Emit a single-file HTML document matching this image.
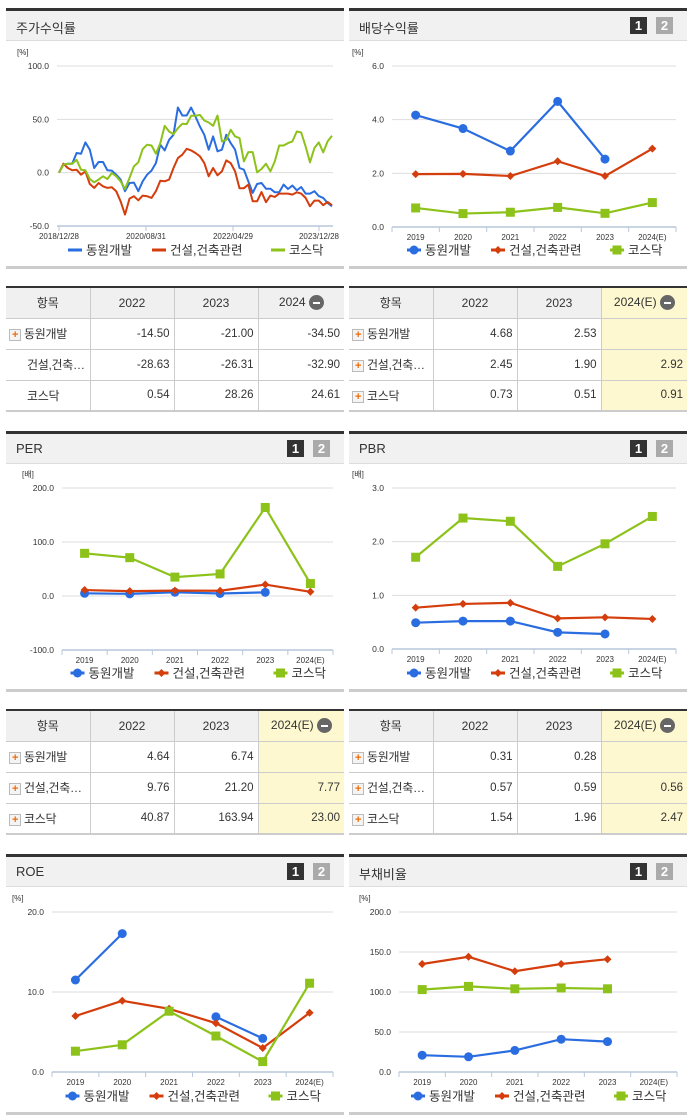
<!DOCTYPE html>
<html><head><meta charset="utf-8">
<style>
*{box-sizing:border-box;margin:0;padding:0}
body{width:691px;height:1115px;background:#fff;position:relative;overflow:hidden;font-family:"Liberation Sans","Noto Sans CJK KR",sans-serif;color:#333}
.panel{position:absolute;border-top:3px solid #333;border-bottom:3px solid #ccc}
.ph{height:30px;background:#f1f1f1;border-bottom:1px solid #ddd;position:relative}
.pt{position:absolute;left:10px;top:7px;font-size:13px;color:#333}
.b{position:absolute;top:6px;width:17px;height:17px;font-size:13px;font-weight:bold;color:#fff;text-align:center;line-height:17px}
.b1{background:#333}.b2{background:#aaa}
table{position:absolute;border-collapse:collapse;border-top:2px solid #333;border-bottom:2px solid #ccc;font-size:11.5px;table-layout:fixed}
td,th{border:1px solid #ccc;height:31px;padding:0 4px;font-weight:normal;white-space:nowrap;overflow:hidden}
th{background:#f0f0f0;text-align:center;font-size:12px}
td{text-align:right}
td.n{text-align:left;font-size:12px;padding-left:3px;letter-spacing:-0.3px}
tr td:first-child,tr th:first-child{border-left:none}
tr td:last-child,tr th:last-child{border-right:none}
.y{background:#fdf8d0}
.pl{display:inline-block;width:12px;height:12px;border:1px solid #bbb;background:#f4f4f4;color:#f26b0b;font-size:11px;line-height:10px;text-align:center;font-weight:bold;vertical-align:middle;margin-right:3px}
.sp{display:inline-block;width:15px;margin-right:3px}
.mi{display:inline-block;width:15px;height:15px;border-radius:50%;background:#666;vertical-align:middle;position:relative;margin-left:3px}
.mi:after{content:"";position:absolute;left:4px;top:6.5px;width:7px;height:2px;background:#fff}
svg{position:absolute;left:0;top:0}
</style></head><body>

<div class="panel" style="left:6px;top:8px;width:338px;height:261px"><div class="ph"><span class="pt">주가수익률</span></div></div>
<div class="panel" style="left:349px;top:8px;width:338px;height:261px"><div class="ph"><span class="pt">배당수익률</span><span class="b b1" style="left:281px">1</span><span class="b b2" style="left:307px">2</span></div></div>
<div class="panel" style="left:6px;top:431px;width:338px;height:261px"><div class="ph"><span class="pt">PER</span><span class="b b1" style="left:281px">1</span><span class="b b2" style="left:307px">2</span></div></div>
<div class="panel" style="left:349px;top:431px;width:338px;height:261px"><div class="ph"><span class="pt">PBR</span><span class="b b1" style="left:281px">1</span><span class="b b2" style="left:307px">2</span></div></div>
<div class="panel" style="left:6px;top:854px;width:338px;height:261px"><div class="ph"><span class="pt">ROE</span><span class="b b1" style="left:281px">1</span><span class="b b2" style="left:307px">2</span></div></div>
<div class="panel" style="left:349px;top:854px;width:338px;height:261px"><div class="ph"><span class="pt">부채비율</span><span class="b b1" style="left:281px">1</span><span class="b b2" style="left:307px">2</span></div></div>

<table style="left:6px;top:286px;width:338px">
<colgroup><col style="width:84px"><col style="width:84px"><col style="width:84px"><col></colgroup>
<tr><th>항목</th><th>2022</th><th>2023</th><th>2024<span class="mi"></span></th></tr>
<tr><td class="n"><span class="pl">+</span>동원개발</td><td>-14.50</td><td>-21.00</td><td>-34.50</td></tr>
<tr><td class="n"><span class="sp"></span>건설,건축…</td><td>-28.63</td><td>-26.31</td><td>-32.90</td></tr>
<tr><td class="n"><span class="sp"></span>코스닥</td><td>0.54</td><td>28.26</td><td>24.61</td></tr>
</table>
<table style="left:349px;top:286px;width:338px">
<colgroup><col style="width:84px"><col style="width:84px"><col style="width:84px"><col></colgroup>
<tr><th>항목</th><th>2022</th><th>2023</th><th class="y">2024(E)<span class="mi"></span></th></tr>
<tr><td class="n"><span class="pl">+</span>동원개발</td><td>4.68</td><td>2.53</td><td class="y"></td></tr>
<tr><td class="n"><span class="pl">+</span>건설,건축…</td><td>2.45</td><td>1.90</td><td class="y">2.92</td></tr>
<tr><td class="n"><span class="pl">+</span>코스닥</td><td>0.73</td><td>0.51</td><td class="y">0.91</td></tr>
</table>
<table style="left:6px;top:709px;width:338px">
<colgroup><col style="width:84px"><col style="width:84px"><col style="width:84px"><col></colgroup>
<tr><th>항목</th><th>2022</th><th>2023</th><th class="y">2024(E)<span class="mi"></span></th></tr>
<tr><td class="n"><span class="pl">+</span>동원개발</td><td>4.64</td><td>6.74</td><td class="y"></td></tr>
<tr><td class="n"><span class="pl">+</span>건설,건축…</td><td>9.76</td><td>21.20</td><td class="y">7.77</td></tr>
<tr><td class="n"><span class="pl">+</span>코스닥</td><td>40.87</td><td>163.94</td><td class="y">23.00</td></tr>
</table>
<table style="left:349px;top:709px;width:338px">
<colgroup><col style="width:84px"><col style="width:84px"><col style="width:84px"><col></colgroup>
<tr><th>항목</th><th>2022</th><th>2023</th><th class="y">2024(E)<span class="mi"></span></th></tr>
<tr><td class="n"><span class="pl">+</span>동원개발</td><td>0.31</td><td>0.28</td><td class="y"></td></tr>
<tr><td class="n"><span class="pl">+</span>건설,건축…</td><td>0.57</td><td>0.59</td><td class="y">0.56</td></tr>
<tr><td class="n"><span class="pl">+</span>코스닥</td><td>1.54</td><td>1.96</td><td class="y">2.47</td></tr>
</table>

<svg id="charts" width="691" height="1115"></svg>

<script>
const seriesNames = ['동원개발','건설,건축관련','코스닥'];
const years = ['2019','2020','2021','2022','2023','2024(E)'];
// stock return (%)
const stockDates = ['2018/12/28','2020/08/31','2022/04/29','2023/12/28'];
const stockTicks = [100,50,0,-50];
const stockBlue = [0,7.5,8.4,8.4,18.4,17.8,28.4,21.5,4.4,10,10,2.2,1.9,-1.9,-6.5,-17.4,-9.7,-9.3,-17.4,-8.1,-1.9,1.9,9.0,26.2,20.9,30.8,35.5,61.1,53.6,53.6,61.1,52.6,43.3,35.5,21.5,34,20,21.5,35.5,27.7,21.5,4.4,2.8,-8.1,-19,-10.6,-9.7,-15,-15,-18.4,-18.4,-11.2,-15.3,-12.1,-16.5,-13.4,-19.6,-19.6,-17.4,-22,-23.7,-28.4,-31.5];
const stockRed = [0,8.4,4.4,2.2,2.8,-1.9,1.2,-10.6,-14.3,-9.7,-12.8,-14.3,-13.7,-17.4,-26.8,-39.3,-24.3,-22.1,-25.9,-21.5,-22.1,-23.7,-17.4,-7.5,-8.1,-6.5,4.4,13.7,16.8,22.4,20.9,18.4,15.3,9.0,-3.4,4.4,-2.5,1.2,11.5,9.0,1.2,-14.6,-14.6,-11.2,-26.8,-26.8,-18.1,-27.7,-21.5,-22.7,-19.6,-19.6,-19.6,-20.6,-18.4,-19.6,-23.7,-31.5,-26.2,-26.2,-30.5,-27.4,-30.5];
const stockGreen = [0,7.5,8.4,8.4,12.1,2.8,2.2,-5.9,-9,-6.5,-3.4,-5.9,-0.3,-3.4,-8.1,-15.3,-5,5.9,9.7,22.1,26.2,25.5,17.8,27.7,43.9,38.6,36.1,41.7,45.8,45.5,53.3,53.3,54.2,48.9,47,43.9,53.6,29.3,30.8,40.2,34,32.4,10.6,19.3,19.3,0.3,3.4,8.4,1.2,10.6,25.5,25.5,27.7,29.3,38.6,37.7,24.6,9.7,23.1,28.4,19,29.3,34.6];
// dividend yield
const divTicks = [6,4,2,0];
const divBlue = [4.17,3.67,2.83,4.68,2.53,null];
const divRed = [1.97,1.98,1.90,2.45,1.90,2.92];
const divGreen = [0.71,0.50,0.55,0.73,0.51,0.91];
// PER
const perTicks = [200,100,0,-100];
const perBlue = [5,4,7,4.64,6.74,null];
const perRed = [11,9,10,9.76,21.2,7.77];
const perGreen = [79,71,35,40.87,163.94,23];
// PBR
const pbrTicks = [3,2,1,0];
const pbrBlue = [0.49,0.52,0.52,0.31,0.28,null];
const pbrRed = [0.77,0.84,0.86,0.57,0.59,0.56];
const pbrGreen = [1.71,2.44,2.38,1.54,1.96,2.47];
// ROE
const roeTicks = [20,10,0];
const roeBlue = [11.5,17.3,null,6.9,4.2,null];
const roeRed = [7.0,8.9,7.9,6.1,3.0,7.4];
const roeGreen = [2.6,3.4,7.6,4.5,1.3,11.1];
// debt ratio
const debtTicks = [200,150,100,50,0];
const debtBlue = [21,19,27,41,38,null];
const debtRed = [135,144,126,135,141,null];
const debtGreen = [103,107,104,105,104,null];

const COL = ['#2a6de0','#d43d0c','#8cc21a'];
const svg = document.getElementById('charts');
const NS = 'http://www.w3.org/2000/svg';
function mk(tag, attrs, parent){
  const e = document.createElementNS(NS, tag);
  for (const k in attrs) e.setAttribute(k, attrs[k]);
  (parent||svg).appendChild(e);
  return e;
}
function txt(x,y,s,size,anchor,fill,parent){
  const t = mk('text',{x:x,y:y,'font-size':size,'text-anchor':anchor||'start',fill:fill||'#333','font-family':'Liberation Sans, Noto Sans CJK KR, sans-serif'},parent);
  t.textContent = s; return t;
}
function yScale(v, vmax, vmin, top, bot){ return top + (vmax - v)/(vmax - vmin)*(bot - top); }

function grid(g, ticks, x0, x1, top, bot, unit){
  const vmax = ticks[0], vmin = ticks[ticks.length-1];
  txt(x0-40, top-11, unit, 8, 'start', '#333', g);
  ticks.forEach(t=>{
    const y = yScale(t, vmax, vmin, top, bot);
    if (t!==vmin) mk('line',{x1:x0,x2:x1,y1:y,y2:y,stroke:'#ddd','stroke-width':1},g);
    txt(x0-8, y+3, t.toFixed(1), 8.5, 'end', '#333', g);
  });
}
function marker(g, i, x, y){
  let m;
  if (i===0) m = mk('circle',{cx:x,cy:y,r:4.5,fill:COL[0]},g);
  else if (i===1) m = mk('path',{d:`M${x} ${y-4}L${x+4} ${y}L${x} ${y+4}L${x-4} ${y}Z`,fill:COL[1]},g);
  else m = mk('rect',{x:x-4.5,y:y-4.5,width:9,height:9,fill:COL[2]},g);
  
  
}
function legend(g, cx, y, lineOnly){
  const widths = [70, 105, 55];
  let x = cx - 117;
  seriesNames.forEach((n,i)=>{
    mk('line',{x1:x,x2:x+14,y1:y,y2:y,stroke:COL[i],'stroke-width':3},g);
    if (!lineOnly) marker(g, i, x+7, y);
    const t = txt(x+18, y+4.5, n, 12.5, 'start', '#333', g);
    
    x += widths[i] + 14;
  });
}
function catChart(name, ticks, series, x0, x1, top, bot, unit, legendY){
  const g = mk('g',{});
  
  
  grid(g, ticks, x0, x1, top, bot, unit);
  const vmax = ticks[0], vmin = ticks[ticks.length-1];
  const step = (x1-x0)/years.length;
  mk('line',{x1:x0,x2:x1,y1:bot,y2:bot,stroke:'#b9c7da','stroke-width':1.5},g);
  for (let i=0;i<=years.length;i++) mk('line',{x1:x0+i*step,x2:x0+i*step,y1:bot,y2:bot+5,stroke:'#b9c7da'},g);
  years.forEach((yr,i)=>txt(x0+step*(i+0.5), bot+13, yr, 8, 'middle', '#333', g));
  series.forEach((arr, si)=>{
    let seg = [];
    const segs = [];
    arr.forEach((v,i)=>{
      if (v===null){ if(seg.length) segs.push(seg); seg=[]; }
      else seg.push([x0+step*(i+0.5), yScale(v,vmax,vmin,top,bot)]);
    });
    if (seg.length) segs.push(seg);
    segs.forEach(s=>{
      if (s.length>1){
        const p = mk('polyline',{points:s.map(q=>q.join(',')).join(' '),fill:'none',stroke:COL[si],'stroke-width':2.2},g);
        
        
      }
      s.forEach(q=>marker(g, si, q[0], q[1]));
    });
  });
  legend(g, (x0+x1)/2 - 10, legendY, false);
}

(function(){
  const g = mk('g',{});
  
  
  const x0=57,x1=333,top=66,bot=226, px0=59, px1=332;
  grid(g, stockTicks, x0, x1, top, bot, '[%]');
  mk('line',{x1:x0,x2:x1,y1:bot,y2:bot,stroke:'#b9c7da','stroke-width':1.5},g);
  const tickX = [59,146,233,319];
  stockDates.forEach((d,i)=>{
    mk('line',{x1:tickX[i],x2:tickX[i],y1:bot,y2:bot+5,stroke:'#b9c7da'},g);
    txt(tickX[i], bot+13, d, 8, 'middle', '#333', g);
  });
  [stockBlue, stockRed, stockGreen].forEach((arr,si)=>{
    const pts = arr.map((v,i)=>[px0+(px1-px0)*i/(arr.length-1), yScale(v,100,-50,top,bot)]);
    const p = mk('polyline',{points:pts.map(q=>q.map(n=>n.toFixed(1)).join(',')).join(' '),fill:'none',stroke:COL[si],'stroke-width':2,'stroke-linejoin':'round'},g);
    
    
  });
  legend(g, 185, 250, true);
})();

catChart('dividend-chart', divTicks, [divBlue,divRed,divGreen], 392, 676, 66, 227, '[%]', 250);
catChart('per-chart', perTicks, [perBlue,perRed,perGreen], 62, 333, 488, 650, '[배]', 673);
catChart('pbr-chart', pbrTicks, [pbrBlue,pbrRed,pbrGreen], 392, 676, 488, 649, '[배]', 673);
catChart('roe-chart', roeTicks, [roeBlue,roeRed,roeGreen], 52, 333, 912, 1072, '[%]', 1096);
catChart('debt-ratio-chart', debtTicks, [debtBlue,debtRed,debtGreen], 399, 677, 912, 1072, '[%]', 1096);
</script>
</body></html>
